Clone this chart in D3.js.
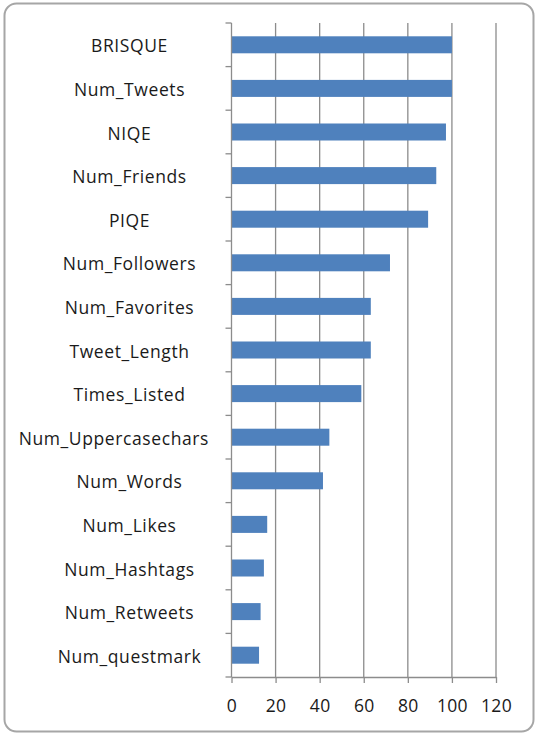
<!DOCTYPE html>
<html>
<head>
<meta charset="utf-8">
<script src="https://cdn.jsdelivr.net/npm/d3@7"></script>
<style>
  body { margin: 0; background: #fff; }
  svg { display: block; }
</style>
</head>
<body>
<svg id="chart"></svg>
<script>
// Data, top to bottom
const features = ["BRISQUE", "Num_Tweets", "NIQE", "Num_Friends", "PIQE", "Num_Followers",
                  "Num_Favorites", "Tweet_Length", "Times_Listed", "Num_Uppercasechars",
                  "Num_Words", "Num_Likes", "Num_Hashtags", "Num_Retweets", "Num_questmark"];
const importance = [100, 100, 97.3, 92.9, 89.2, 71.9, 63.2, 63.2, 58.9, 44.4, 41.5, 16.2, 14.7, 13.2, 12.5];
const xTicks = [0, 20, 40, 60, 80, 100, 120];

const width = 538, height = 736;
const margin = { top: 23, right: 42, bottom: 59, left: 231.5 };

const svg = d3.select("#chart")
              .attr("width", width)
              .attr("height", height);

// Chart frame
svg.append("rect")
   .attr("x", 4.5).attr("y", 3.5)
   .attr("width", width - 9).attr("height", height - 8)
   .attr("rx", 12)
   .attr("fill", "#fff")
   .attr("stroke", "#a6a6a6")
   .attr("stroke-width", 2);

const xScale = d3.scaleLinear()
                 .domain([0, 120])
                 .range([margin.left, width - margin.right]);

const yScale = d3.scaleBand()
                 .domain(features)
                 .range([margin.top, height - margin.bottom])
                 .paddingInner(0.61)
                 .paddingOuter(0.305);

const plotBottom = height - margin.bottom;

// Vertical gridlines
svg.append("g")
   .selectAll("line")
   .data(xTicks.slice(1))
   .join("line")
   .attr("x1", d => xScale(d)).attr("x2", d => xScale(d))
   .attr("y1", margin.top).attr("y2", plotBottom)
   .attr("stroke", "#8c8c8c")
   .attr("stroke-width", 1.3);

// Bars
svg.append("g")
   .selectAll("rect")
   .data(features)
   .join("rect")
   .attr("x", xScale(0))
   .attr("y", d => yScale(d))
   .attr("width", (d, i) => xScale(importance[i]) - xScale(0))
   .attr("height", yScale.bandwidth())
   .attr("fill", "#4f81bd");

// X axis
const xAxis = svg.append("g")
   .attr("transform", `translate(0, ${plotBottom})`)
   .call(d3.axisBottom(xScale).tickValues(xTicks).tickSize(6).tickSizeOuter(0).tickPadding(17));
xAxis.select(".domain").attr("stroke", "#8c8c8c").attr("stroke-width", 1.3);
xAxis.selectAll(".tick line").attr("stroke", "#8c8c8c").attr("stroke-width", 1.3);
xAxis.selectAll("text")
     .attr("fill", "#1a1a1a")
     .style("font-family", "'Open Sans', sans-serif")
     .style("font-size", "17.5px")
     .style("letter-spacing", "0.3px");

// Y axis: line plus ticks at category boundaries
const step = yScale.step();
svg.append("line")
   .attr("x1", xScale(0)).attr("x2", xScale(0))
   .attr("y1", margin.top).attr("y2", plotBottom)
   .attr("stroke", "#8c8c8c").attr("stroke-width", 1.3);
svg.append("g")
   .selectAll("line")
   .data(d3.range(features.length + 1))
   .join("line")
   .attr("x1", xScale(0) - 6).attr("x2", xScale(0))
   .attr("y1", i => margin.top + i * step)
   .attr("y2", i => margin.top + i * step)
   .attr("stroke", "#8c8c8c").attr("stroke-width", 1.3);

// Category labels, centred in label area; long ones pushed left so they stay clear of the axis
const labelCenter = 129.5, labelRightLimit = 209;
svg.append("g")
   .selectAll("text")
   .data(features)
   .join("text")
   .attr("y", d => yScale(d) + yScale.bandwidth() / 2 + 1.5)
   .attr("dy", "0.35em")
   .attr("text-anchor", "middle")
   .attr("fill", "#1a1a1a")
   .style("font-family", "'Open Sans', sans-serif")
   .style("font-size", "17.5px")
   .style("letter-spacing", "0.6px")
   .text(d => d)
   .attr("x", function() {
       const w = this.getComputedTextLength();
       return Math.min(labelCenter, labelRightLimit - w / 2);
   });
</script>
</body>
</html>
